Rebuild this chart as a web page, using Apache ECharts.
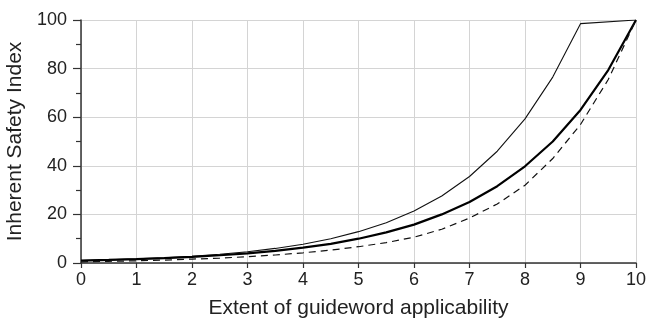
<!DOCTYPE html>
<html><head><meta charset="utf-8">
<script src="https://cdn.jsdelivr.net/npm/echarts@6/dist/echarts.min.js"></script>
<style>html,body{margin:0;padding:0;background:#fff}#c{width:651px;height:320px}</style>
</head><body><div id="c"></div>
<script>
var xThin  = [0,0.5,1,1.5,2,2.5,3,3.5,4,4.5,5,5.5,6,6.5,7,7.5,8,8.5,9,10];
var thin   = [1,1.3,1.7,2.15,2.8,3.6,4.6,6,7.7,10,12.9,16.6,21.4,27.6,35.6,46,59.3,76.5,98.5,100];
var xStep  = [0,0.5,1,1.5,2,2.5,3,3.5,4,4.5,5,5.5,6,6.5,7,7.5,8,8.5,9,9.5,10];
var thick  = [1,1.26,1.58,2,2.5,3.2,4,5,6.3,7.9,10,12.6,15.8,20,25.1,31.6,39.8,50,63,79.4,100];
var dashed = [0.5,0.7,0.9,1.2,1.6,2.0,2.6,3.3,4.2,5.3,6.7,8.4,10.6,13.9,18.5,24.3,32,43,57,75.5,100];
var xName = 'Extent of guideword applicability';
var yName = 'Inherent Safety Index';

function pairs(xs, ys){ return xs.map(function(x,i){ return [x, ys[i]]; }); }

var chart = echarts.init(document.getElementById('c'), null, {renderer:'canvas'});
var font = 'Liberation Sans, Arial, sans-serif';
chart.setOption({
  animation:false,
  grid:{left:81, right:15, top:20, bottom:57, containLabel:false, outerBoundsMode:'none'},
  xAxis:{type:'value', min:0, max:10, interval:1,
    name:xName, nameLocation:'middle', nameGap:35,
    nameTextStyle:{fontFamily:font, fontSize:21, color:'#222'},
    axisLine:{lineStyle:{color:'#333', width:1.5}},
    axisTick:{show:true, inside:false, length:5, lineStyle:{color:'#333', width:1.2}},
    axisLabel:{fontFamily:font, fontSize:18, color:'#222', margin:8},
    splitLine:{show:true, lineStyle:{color:'#d4d4d4', width:1}}},
  yAxis:{type:'value', min:0, max:100, interval:20,
    name:yName, nameLocation:'middle', nameGap:51, nameRotate:90,
    nameTextStyle:{fontFamily:font, fontSize:21, color:'#222'},
    axisLine:{show:true, lineStyle:{color:'#333', width:1.5}},
    axisTick:{show:true, inside:false, length:8, lineStyle:{color:'#333', width:1.2}},
    minorTick:{show:true, splitNumber:2, length:5, lineStyle:{color:'#333', width:1.2}},
    axisLabel:{fontFamily:font, fontSize:18, color:'#222', margin:14},
    splitLine:{show:true, lineStyle:{color:'#d4d4d4', width:1}}},
  series:[
    {type:'line', data:pairs(xThin, thin), symbol:'none', lineStyle:{color:'#111', width:1.1}},
    {type:'line', data:pairs(xStep, thick), symbol:'none', lineStyle:{color:'#000', width:2.2}},
    {type:'line', data:pairs(xStep, dashed), symbol:'none', lineStyle:{color:'#111', width:1.2, type:[7,5]}}
  ]
});
</script></body></html>
